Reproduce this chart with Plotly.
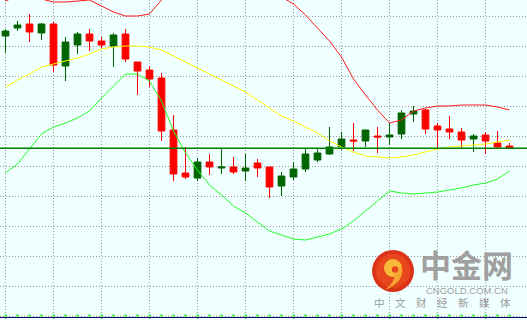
import plotly.graph_objects as go

# ---- data ----
opens = [1296.4, 1297.2, 1297.6, 1296.7, 1297.6, 1293.4, 1295.5, 1296.6, 1295.9, 1295.4, 1296.6,
         1293.8, 1293.0, 1292.2, 1287.0, 1282.7, 1282.2, 1283.8, 1283.2, 1283.3, 1282.9, 1283.7,
         1283.3, 1281.4, 1282.3, 1283.1, 1284.0, 1284.6, 1285.3, 1286.0, 1285.9, 1286.4, 1286.3,
         1286.6, 1288.6, 1289.0, 1287.4, 1287.1, 1286.8, 1286.1, 1286.5, 1285.7, 1285.4]
highs = [1297.1, 1297.9, 1298.6, 1297.7, 1297.8, 1296.3, 1296.8, 1297.1, 1296.3, 1296.7, 1297.1,
         1293.8, 1293.4, 1292.7, 1288.5, 1285.3, 1284.2, 1284.6, 1285.2, 1284.3, 1284.6, 1284.1,
         1283.3, 1282.8, 1283.8, 1285.2, 1285.2, 1287.3, 1286.8, 1287.7, 1287.0, 1287.3, 1287.7,
         1289.0, 1289.4, 1289.1, 1287.7, 1288.4, 1287.2, 1286.6, 1286.8, 1286.9, 1285.7]
lows = [1294.7, 1296.9, 1295.8, 1296.0, 1292.8, 1291.9, 1294.6, 1294.9, 1295.2, 1293.3, 1293.8,
        1290.5, 1291.3, 1285.9, 1281.9, 1282.1, 1281.9, 1282.5, 1282.6, 1282.6, 1281.9, 1282.3,
        1280.2, 1280.4, 1282.0, 1282.8, 1283.8, 1284.5, 1285.0, 1284.9, 1285.3, 1284.7, 1285.5,
        1286.1, 1287.8, 1286.6, 1285.1, 1286.1, 1285.1, 1284.8, 1284.6, 1285.2, 1285.1]
closes = [1296.9, 1297.5, 1296.8, 1297.6, 1293.5, 1295.8, 1296.6, 1295.9, 1295.5, 1296.5, 1294.1,
          1292.9, 1292.1, 1286.9, 1282.6, 1282.3, 1283.8, 1283.3, 1283.3, 1282.8, 1283.2, 1283.2,
          1281.3, 1282.4, 1283.1, 1284.6, 1284.7, 1285.3, 1286.1, 1285.9, 1287.0, 1286.3, 1286.5,
          1288.7, 1288.9, 1287.1, 1287.0, 1286.8, 1286.0, 1286.4, 1285.9, 1285.3, 1285.2]
band_upper = [1299.9, 1300.4, 1300.4, 1300.1, 1299.8, 1299.8, 1299.9, 1300.0, 1299.4, 1298.8, 1298.4,
              1298.4, 1298.6, 1300.0, 1301.8, 1302.8, 1303.4, 1303.7, 1303.5, 1303.3, 1302.8, 1302.4,
              1301.5, 1300.3, 1299.6, 1298.5, 1297.2, 1295.9, 1294.3, 1292.1, 1290.5, 1289.0, 1287.7,
              1288.0, 1288.9, 1289.2, 1289.4, 1289.4, 1289.5, 1289.5, 1289.5, 1289.3, 1289.0]
band_middle = [1291.3, 1292.0, 1292.6, 1293.3, 1293.6, 1293.9, 1294.2, 1294.6, 1295.1, 1295.3, 1295.4,
               1295.4, 1295.3, 1295.0, 1294.4, 1293.8, 1293.2, 1292.6, 1292.0, 1291.4, 1290.8, 1290.0,
               1289.2, 1288.4, 1287.9, 1287.3, 1286.7, 1285.9, 1285.3, 1284.8, 1284.4, 1284.3, 1284.2,
               1284.3, 1284.5, 1284.8, 1285.1, 1285.3, 1285.4, 1285.5, 1285.6, 1285.8, 1286.0]
band_lower = [1282.7, 1283.6, 1285.1, 1286.6, 1287.3, 1287.7, 1288.2, 1288.9, 1290.2, 1291.4, 1292.6,
              1292.6, 1291.9, 1289.9, 1286.9, 1284.7, 1283.0, 1281.5, 1280.5, 1279.4, 1278.7, 1277.8,
              1276.9, 1276.5, 1276.1, 1276.0, 1276.3, 1276.6, 1277.1, 1277.9, 1278.9, 1279.9, 1280.9,
              1280.7, 1280.6, 1280.7, 1280.8, 1281.0, 1281.2, 1281.5, 1281.7, 1282.1, 1282.9]
level_line = 1285.17
marker_row = 1268.45

idx = list(range(len(opens)))

W, H = 527, 320
BG = "#F0FFFF"


def px(x):
    return x / W


def py(y):
    return 1 - y / H


fig = go.Figure()

fig.add_trace(go.Scatter(x=idx, y=band_upper, mode="lines",
                         line=dict(color="#FF1A1A", width=1), hoverinfo="skip"))
fig.add_trace(go.Scatter(x=idx, y=band_middle, mode="lines",
                         line=dict(color="#FFFF00", width=1), hoverinfo="skip"))
fig.add_trace(go.Scatter(x=idx, y=band_lower, mode="lines",
                         line=dict(color="#22FF22", width=1), hoverinfo="skip"))

fig.add_trace(go.Candlestick(
    x=idx, open=opens, high=highs, low=lows, close=closes,
    increasing=dict(line=dict(color="#006400", width=1), fillcolor="#006400"),
    decreasing=dict(line=dict(color="#FF0000", width=1), fillcolor="#FF0000"),
    whiskerwidth=0, hoverinfo="skip",
))

fig.add_trace(go.Scatter(x=idx, y=[marker_row] * len(idx), mode="markers",
                         marker=dict(symbol="square", size=2, color="#00FF00",
                                     line=dict(width=0)), hoverinfo="skip"))

shapes = []
# horizontal level line
shapes.append(dict(type="line", xref="paper", x0=0, x1=1, yref="y", y0=level_line, y1=level_line,
                   line=dict(color="#008000", width=1.6), layer="above"))
# bottom navy line
shapes.append(dict(type="line", xref="paper", x0=0, x1=1, yref="paper", y0=py(317.5), y1=py(317.5),
                   line=dict(color="#0A0A6E", width=1), layer="above"))

# logo circle
cx, cy, r = 393, 271, 21
shapes.append(dict(type="circle", xref="paper", yref="paper",
                   x0=px(cx - r), x1=px(cx + r), y0=py(cy + r), y1=py(cy - r),
                   fillcolor="#DC3418", line=dict(width=0), layer="above"))
r2 = 17
shapes.append(dict(type="circle", xref="paper", yref="paper",
                   x0=px(cx - r2), x1=px(cx + r2), y0=py(cy + r2), y1=py(cy - r2),
                   fillcolor="#E8471E", line=dict(width=0), layer="above"))


def path(points_cmds):
    out = []
    for cmd, pts in points_cmds:
        coords = " ".join(f"{px(x):.5f},{py(y):.5f}" for x, y in pts)
        out.append(f"{cmd}{coords}")
    return " ".join(out) + " Z"


# swirl head
hx, hy, hr = 393, 268, 9
shapes.append(dict(type="circle", xref="paper", yref="paper",
                   x0=px(hx - hr), x1=px(hx + hr), y0=py(hy + hr), y1=py(hy - hr),
                   fillcolor="#F8B93A", line=dict(width=0), layer="above"))
# swirl tail
shapes.append(dict(type="path", xref="paper", yref="paper",
                   path=path([("M", [(401.5, 266)]),
                              ("Q", [(406, 281), (385, 290)]),
                              ("Q", [(396, 281), (394, 274)])]),
                   fillcolor="#F6A531", line=dict(width=0), layer="above"))
# inner red curl
ir = 3.2
shapes.append(dict(type="circle", xref="paper", yref="paper",
                   x0=px(395 - ir), x1=px(395 + ir), y0=py(269.5 + ir), y1=py(269.5 - ir),
                   fillcolor="#E8471E", line=dict(width=0), layer="above"))

annotations = [
    dict(text="<b>中金网</b>", xref="paper", yref="paper", x=px(466), y=py(263),
         xanchor="center", yanchor="middle", showarrow=False, borderpad=0,
         font=dict(family="Noto Sans CJK SC", size=31, color="#A0A0A0")),
    dict(text="CNGOLD.COM.CN", xref="paper", yref="paper", x=px(467), y=py(290),
         xanchor="center", yanchor="middle", showarrow=False, borderpad=0,
         font=dict(family="Liberation Sans", size=9.5, color="#A0A0A0")),
    dict(text="中　文　财　经　新　媒　体", xref="paper", yref="paper", x=px(442), y=py(302),
         xanchor="center", yanchor="middle", showarrow=False, borderpad=0,
         font=dict(family="Noto Sans CJK SC", size=10.5, color="#9A9A9A")),
]

fig.update_layout(
    width=W, height=H, margin=dict(l=0, r=0, t=0, b=0),
    paper_bgcolor=BG, plot_bgcolor=BG,
    showlegend=False, boxgap=0.2,
    shapes=shapes, annotations=annotations,
    xaxis=dict(range=[-5.5 / 12, (W - 5.5) / 12], showticklabels=False, zeroline=False,
               showgrid=True, gridcolor="#999999", griddash="1px,2px", gridwidth=1,
               tick0=0, dtick=4, rangeslider=dict(visible=False), fixedrange=True),
    yaxis=dict(range=[1268, 1300], showticklabels=False, zeroline=False,
               showgrid=True, gridcolor="#999999", griddash="1px,2px", gridwidth=1,
               tick0=1298.35, dtick=3, fixedrange=True),
)

fig.write_html("out.html", config={"displayModeBar": False})
